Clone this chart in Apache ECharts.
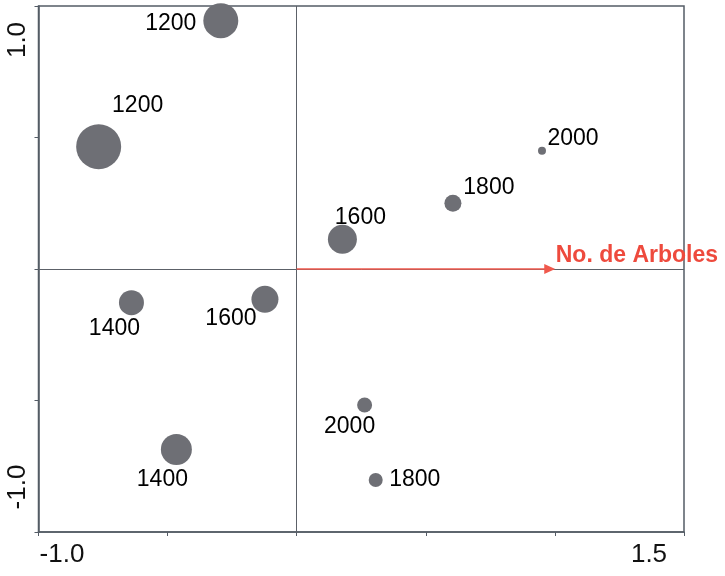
<!DOCTYPE html>
<html>
<head>
<meta charset="utf-8">
<script src="https://cdn.jsdelivr.net/npm/echarts@6/dist/echarts.min.js"></script>
<style>
  html, body { margin: 0; padding: 0; background: #fff; }
  #chart { width: 725px; height: 576px; }
</style>
</head>
<body>
<div id="chart"></div>
<script>
// Site scores: density class, first and second ordination axes, marker weight
var densidad = ['1200', '1200', '2000', '1800', '1600', '1400', '1600', '1400', '2000', '1800'];
var eje1 = [-0.294, -0.767, 0.950, 0.605, 0.177, -0.640, -0.123, -0.466, 0.263, 0.306];
var eje2 = [0.944, 0.465, 0.450, 0.250, 0.113, -0.128, -0.115, -0.686, -0.517, -0.802];
var peso = [35, 45, 8, 17, 29, 25, 27, 31, 15, 14];

// Environmental vector
var vectorNombre = 'No. de Arboles';
var vectorFin = [0.98, 0.0];

// Axis limits and tick labels
var xMin = -1.0, xMax = 1.5, xPaso = 0.5;
var yMin = -1.0, yMax = 1.0, yPaso = 0.5;
var xEtiquetas = { '-1': '-1.0', '1.5': '1.5' };
var yEtiquetas = { '-1': '-1.0', '1': '1.0' };

// Label placement around each marker (pixels from the marker centre)
var desplazamientos = [[-50, 3], [39, -41], [31, -12], [36, -16], [18, -22],
                       [-17, 26], [-34, 19], [-14, 30], [-15, 22], [39, 0]];

var puntos = densidad.map(function (d, i) {
  return {
    name: d,
    value: [eje1[i], eje2[i], peso[i]],
    label: { offset: desplazamientos[i] }
  };
});

var ejeColor = '#545c66';
var fuente = '"Liberation Sans", Arial, sans-serif';

var chart = echarts.init(document.getElementById('chart'), null, { renderer: 'canvas' });
chart.setOption({
  animation: false,
  backgroundColor: '#ffffff',
  grid: {
    left: 38.5, right: 41, top: 6, bottom: 44,
    show: true, borderColor: ejeColor, borderWidth: 1.5,
    containLabel: false, outerBoundsMode: 'none'
  },
  xAxis: {
    type: 'value', min: xMin, max: xMax, interval: xPaso,
    splitLine: { show: false },
    axisLine: { show: true, onZero: false, lineStyle: { color: ejeColor, width: 1.5 } },
    axisTick: { show: true, length: 4, lineStyle: { color: ejeColor, width: 1 } },
    axisLabel: {
      margin: 10,
      formatter: function (v) {
        var t = xEtiquetas[String(v)];
        if (!t) return '';
        return v === xMin ? '{ini|' + t + '}' : '{fin|' + t + '}';
      },
      rich: {
        ini: { fontSize: 26, fontFamily: fuente, color: '#111', padding: [0, 0, 0, 47] },
        fin: { fontSize: 26, fontFamily: fuente, color: '#111', padding: [0, 70, 0, 0] }
      }
    }
  },
  yAxis: {
    type: 'value', min: yMin, max: yMax, interval: yPaso,
    splitLine: { show: false },
    axisLine: { show: true, onZero: false, lineStyle: { color: ejeColor, width: 1.5 } },
    axisTick: { show: true, length: 4, lineStyle: { color: ejeColor, width: 1 } },
    axisLabel: {
      rotate: 90,
      margin: 8,
      formatter: function (v) {
        var t = yEtiquetas[String(v)];
        if (!t) return '';
        return v === yMax ? '{sup|' + t + '}' : '{inf|' + t + '}';
      },
      rich: {
        sup: { fontSize: 26, fontFamily: fuente, color: '#111', padding: [0, 68, 0, 0] },
        inf: { fontSize: 26, fontFamily: fuente, color: '#111', padding: [0, 0, 0, 90] }
      }
    }
  },
  series: [
    {
      // Origin reference lines
      type: 'line',
      data: [],
      silent: true,
      markLine: {
        silent: true,
        symbol: 'none',
        label: { show: false },
        lineStyle: { color: '#5c6168', width: 1, type: 'solid' },
        emphasis: { disabled: true },
        data: [{ xAxis: 0 }, { yAxis: 0 }]
      }
    },
    {
      // Density vector
      type: 'line',
      data: [],
      silent: true,
      z: 3,
      markLine: {
        silent: true,
        symbol: ['none', 'triangle'],
        symbolSize: [10, 11],
        lineStyle: { color: '#f0584c', width: 1.6, type: 'solid', opacity: 1 },
        emphasis: { disabled: true },
        label: {
          show: true,
          position: 'end',
          distance: 6,
          formatter: '{v|' + vectorNombre + '}',
          rich: {
            v: { fontSize: 23, fontWeight: 'bold', fontFamily: fuente, color: '#ee4a3d', padding: [0, 0, 26, 0] }
          }
        },
        data: [[{ coord: [0, 0] }, { coord: vectorFin }]]
      }
    },
    {
      type: 'scatter',
      z: 4,
      data: puntos,
      symbol: 'circle',
      symbolSize: function (val) { return val[2]; },
      itemStyle: { color: '#6e6f75', opacity: 1 },
      label: {
        show: true,
        position: 'inside',
        formatter: '{b}',
        fontSize: 23,
        fontFamily: fuente,
        color: '#000',
        opacity: 1
      },
      emphasis: { disabled: true }
    }
  ]
});
</script>
</body>
</html>
